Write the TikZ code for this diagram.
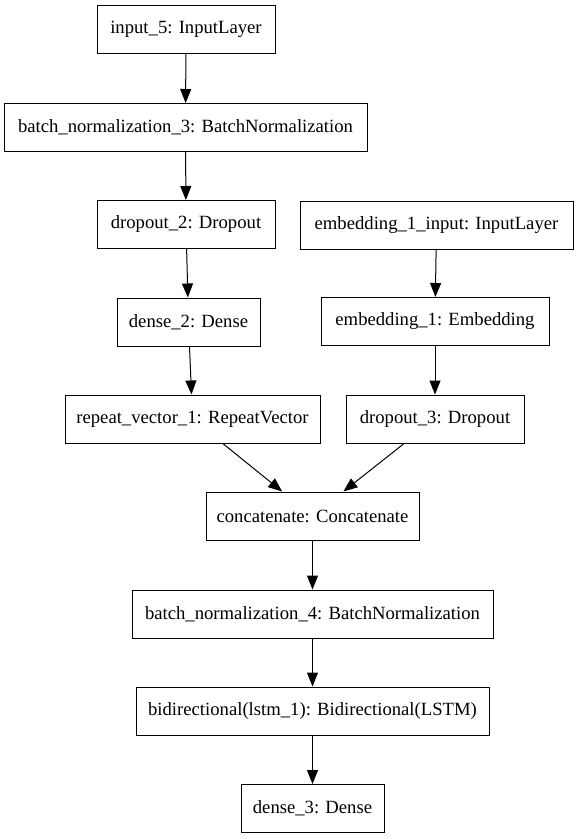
\documentclass[tikz,border=0pt]{standalone}
\usepackage{fontspec}
\newfontfamily\layerfont{Liberation Serif}
\usetikzlibrary{arrows.meta}
\begin{document}
\begin{tikzpicture}[x=1pt,y=-1pt,
    layer/.style={draw, line width=1pt, minimum height=48pt, inner sep=0pt,
      font=\layerfont\fontsize{18.67}{22}\selectfont},
    flow/.style={line width=1pt, -{Triangle[length=14pt,width=11pt]}}]
      \useasboundingbox (0,0) rectangle (579,839);
      \node[layer, minimum width=178pt] (input5) at (186,29.5) {input\_5: InputLayer};
      \node[layer, minimum width=363pt] (bn3) at (185.5,127.5) {batch\_normalization\_3: BatchNormalization};
      \node[layer, minimum width=178pt] (drop2) at (186,224.5) {dropout\_2: Dropout};
      \node[layer, minimum width=273pt] (embin) at (436.5,225) {embedding\_1\_input: InputLayer};
      \node[layer, minimum width=143pt] (dense2) at (188.5,322) {dense\_2: Dense};
      \node[layer, minimum width=228pt] (emb1) at (435,321.5) {embedding\_1: Embedding};
      \node[layer, minimum width=255pt] (repeat1) at (192.5,419) {repeat\_vector\_1: RepeatVector};
      \node[layer, minimum width=178pt] (drop3) at (435,419) {dropout\_3: Dropout};
      \node[layer, minimum width=213pt] (concat) at (312.5,516) {concatenate: Concatenate};
      \node[layer, minimum width=361pt] (bn4) at (312.5,614) {batch\_normalization\_4: BatchNormalization};
      \node[layer, minimum width=353pt] (bidir) at (312.5,711) {bidirectional(lstm\_1): Bidirectional(LSTM)};
      \node[layer, minimum width=143pt] (dense3) at (312.5,808.5) {dense\_3: Dense};
      \begin{scope}[flow]
        \draw (input5) to (bn3);
        \draw (bn3) to (drop2);
        \draw (drop2) to (dense2);
        \draw (dense2) to (repeat1);
        \draw (embin) to (emb1);
        \draw (emb1) to (drop3);
        \draw (repeat1) to (concat);
        \draw (drop3) to (concat);
        \draw (concat) to (bn4);
        \draw (bn4) to (bidir);
        \draw (bidir) to (dense3);
      \end{scope}
    \end{tikzpicture}
\end{document}
